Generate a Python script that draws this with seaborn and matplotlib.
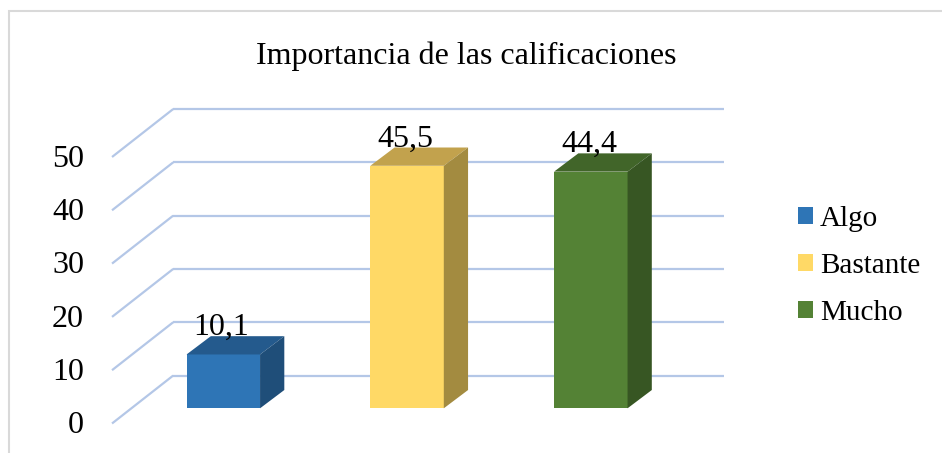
import matplotlib
matplotlib.use("Agg")
import matplotlib.pyplot as plt
from matplotlib.patches import Polygon, Patch, Rectangle
import seaborn as sns

# data
categories = ["Algo", "Bastante", "Mucho"]
values = [10.1, 45.5, 44.4]
value_labels = ["10,1", "45,5", "44,4"]
y_ticks = [0, 10, 20, 30, 40, 50]

# colours: front, top, side
front_colors = ["#2E75B6", "#FFD966", "#548235"]
top_colors = ["#245A8D", "#C2A24D", "#416529"]
side_colors = ["#1F4E79", "#A38B40", "#375623"]
grid_color = "#B4C7E7"

sns.set_style("white")
plt.rcParams["font.family"] = ["Liberation Serif", "DejaVu Serif"]
plt.rcParams["text.color"] = "black"

W, H = 942, 453
fig = plt.figure(figsize=(W / 100, H / 100), dpi=100)
ax = fig.add_axes([0, 0, 1, 1])

sns.barplot(x=categories, y=values, hue=categories, palette=front_colors,
            saturation=1, width=0.4, linewidth=0, edgecolor="none", legend=False,
            ax=ax, zorder=3)

# fake 3D depth offsets (data units of the bar front plane)
back_dx, back_dy = 0.2275, 6.15
front_dx, front_dy = -0.1056, -2.85
bar_dx, bar_dy = 0.132, 3.43
half_w = 0.2

# back wall gridlines + side diagonals
for t in y_ticks:
    ax.plot([-0.5 + back_dx, 2.5 + back_dx], [t + back_dy, t + back_dy],
            color=grid_color, lw=1.6, zorder=1, solid_capstyle="butt")
    ax.plot([-0.5 + front_dx, -0.5 + back_dx], [t + front_dy, t + back_dy],
            color=grid_color, lw=1.6, zorder=1, solid_capstyle="butt")
    ax.text(-0.5 + front_dx - 0.152, t + front_dy - 0.4, str(t),
            ha="right", va="center", fontsize=23, color="black")

# top and side faces of each bar
for i, v in enumerate(values):
    x0, x1 = i - half_w, i + half_w
    top = Polygon([(x0, v), (x1, v), (x1 + bar_dx, v + bar_dy), (x0 + bar_dx, v + bar_dy)],
                  closed=True, facecolor=top_colors[i], edgecolor="none", zorder=4)
    side = Polygon([(x1, 0), (x1 + bar_dx, bar_dy), (x1 + bar_dx, v + bar_dy), (x1, v)],
                   closed=True, facecolor=side_colors[i], edgecolor="none", zorder=4)
    ax.add_patch(top)
    ax.add_patch(side)
    ax.text(i - 0.01, v + bar_dy + 0.2, value_labels[i], ha="center", va="baseline",
            fontsize=23, color="black", zorder=5)

ax.set_xlim(-223.3 / 183.75, (W - 223.3) / 183.75)
ax.set_ylim(-44.7 / 5.33, (H - 44.7) / 5.33)
ax.axis("off")

# chart border
fig.patches.append(Rectangle((9 / W, -0.1), 1.2, 1.1 - 11 / H, transform=fig.transFigure,
                             fill=False, edgecolor="#D9D9D9", lw=1.5))

fig.text(466 / W, 1 - 64 / H, "Importancia de las calificaciones",
         ha="center", va="baseline", fontsize=23, color="black")

handles = [Patch(facecolor=c, edgecolor="none", label=lab)
           for c, lab in zip(front_colors, categories)]
fig.legend(handles=handles, loc="center left", bbox_to_anchor=(798 / W, 1 - 265.7 / H),
           frameon=False, fontsize=21, handlelength=0.5, handleheight=0.5,
           handletextpad=0.25, labelspacing=0.72, borderpad=0, borderaxespad=0,
           labelcolor="black")

fig.savefig("out.png", dpi=100)
